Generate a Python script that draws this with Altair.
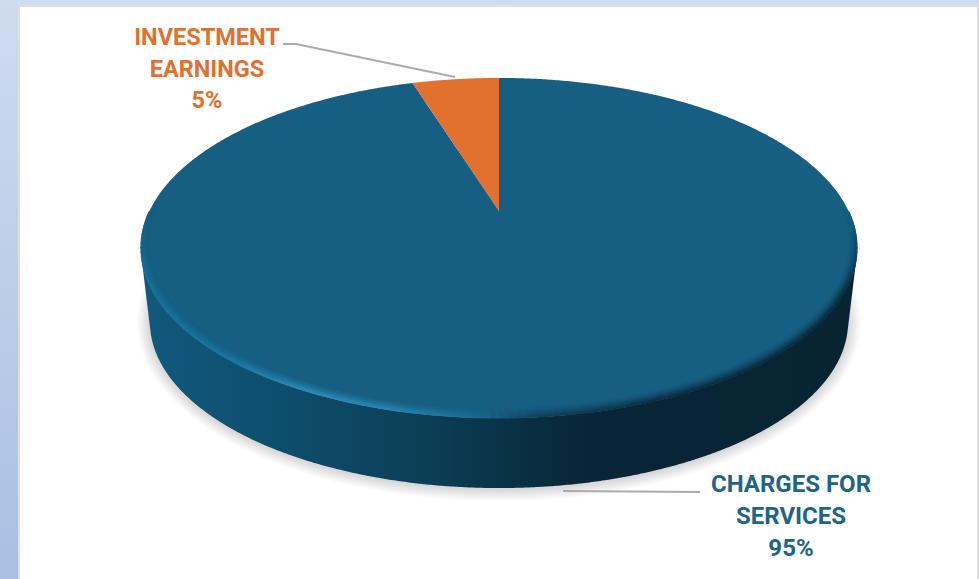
import altair as alt
import numpy as np
import pandas as pd

# Chart values
shares = [95, 5]
names = [["CHARGES FOR", "SERVICES"], ["INVESTMENT", "EARNINGS"]]
slice_colors = ["#165e82", "#e2702f"]
label_colors = ["#1f6386", "#e2702f"]
label_centers = [(791, 485), (207, 38)]
label_sizes = [24, 23.5]
line_step = [32, 31.5]
leader_lines = [[(563, 491), (700, 492)], [(283, 44), (296, 44), (455, 77)]]

# Pie geometry: a tilted disc seen in perspective
CX, APEX_Y = 499.0, 211.0
TILT, SY, SX = 0.2176, 162.0, 349.5
SX_RIM = 338.0
RX = SX / np.sqrt(1 - TILT**2)
TOP, BOTTOM = APEX_Y - SY / (1 + TILT), APEX_Y + SY / (1 - TILT)
EY, RY = (TOP + BOTTOM) / 2, (BOTTOM - TOP) / 2
DEPTH, WALL_RX, WALL_RY = 74.0, 9.0, 4.0
WIDTH, HEIGHT = 979, 579

X = alt.X("x:Q", scale=alt.Scale(domain=[0, WIDTH], nice=False, zero=False), axis=None)
Y = alt.Y("y:Q", scale=alt.Scale(domain=[HEIGHT, 0], nice=False, zero=False), axis=None)


def rim(theta_deg):
    t = np.radians(theta_deg)
    u, v = np.sin(t), np.cos(t)
    d = 1 + TILT * v
    return CX + SX_RIM * u / d, APEX_Y - SY * v / d


def half(x, cy, rx, ry, sign):
    return cy + sign * ry * np.sqrt(np.clip(1 - ((x - CX) / rx) ** 2, 0, 1))


def grid(rx, n=360):
    return CX - rx * np.cos(np.linspace(0, np.pi, n))


def hgrad(stops):
    return alt.Gradient(
        gradient="linear", x1=0, x2=1, y1=0, y2=0,
        stops=[alt.GradientStop(offset=o, color=c) for o, c in stops],
    )


def fixed_rect(x0, x1, y0, y1, fill):
    return alt.Chart(pd.DataFrame({"a": [0]})).mark_rect(fill=fill, stroke=None).encode(
        x=alt.value(x0), x2=alt.value(x1), y=alt.value(y0), y2=alt.value(y1)
    )


def mix(c1, c2, w):
    a = np.array([int(c1[i:i + 2], 16) for i in (1, 3, 5)], float)
    b = np.array([int(c2[i:i + 2], 16) for i in (1, 3, 5)], float)
    r = a + (b - a) * w
    return "#%02x%02x%02x" % tuple(int(round(q)) for q in r)


layers = []

# Slide backdrop and white panel
backdrop = alt.Gradient(
    gradient="linear", x1=0, x2=0, y1=0, y2=1,
    stops=[alt.GradientStop(offset=0, color="#cfdbef"),
           alt.GradientStop(offset=1, color="#a9c0e3")],
)
layers.append(fixed_rect(0, WIDTH, 0, HEIGHT, backdrop))
layers.append(fixed_rect(18, WIDTH, 5, HEIGHT, "#dedede"))
layers.append(fixed_rect(20, WIDTH - 2, 7, HEIGHT, "#ffffff"))

# Soft shadow on the panel under the disc
for d in np.arange(13, 0, -1.0):
    xs = grid(RX - WALL_RX + d)
    cy = EY + DEPTH + 1
    rx, ry = RX - WALL_RX + d, RY - WALL_RY + d * 0.95
    df = pd.DataFrame({"x": xs, "y": half(xs, cy, rx, ry, -1), "y2": half(xs, cy, rx, ry, 1)})
    layers.append(alt.Chart(df).mark_area(color="#000000", opacity=0.013).encode(x=X, y=Y, y2="y2:Q"))

# Side wall of the disc
xs = grid(RX, 500)
ss = np.linspace(0, 1, 60)
low = np.max([
    np.where(np.abs(xs - CX) <= RX - s * WALL_RX,
             half(xs, EY + s * DEPTH, RX - s * WALL_RX, RY - s * WALL_RY, 1), 0)
    for s in ss
], axis=0)
wall = pd.DataFrame({"x": xs, "y": half(xs, EY, RX, RY, 1), "y2": low})
layers.append(alt.Chart(wall).mark_area(
    color=hgrad([(0, "#11597f"), (0.2, "#0e4d6c"), (0.38, "#0c4058"),
                 (0.5, "#0a3348"), (0.62, "#082637"), (1, "#082433")])
).encode(x=X, y=Y, y2="y2:Q"))

# Top face: one area per slice, with angles taken from the shares
sweep = 360 * shares[1] / sum(shares)
edge_x, edge_y = rim(-sweep)
edge_y = half(edge_x, EY, RX, RY, -1)
xs = np.sort(np.concatenate([grid(RX, 500), [edge_x, CX]]))
upper = half(xs, EY, RX, RY, -1)
inside = (xs > edge_x) & (xs <= CX)
frac = (xs - edge_x) / (CX - edge_x)
upper_cut = np.where(inside, edge_y + frac * (APEX_Y - edge_y), upper)
main = pd.DataFrame({"x": xs, "y": upper_cut, "y2": half(xs, EY, RX, RY, 1)})
# the slice edge rises straight up from the apex to the rim
main = pd.concat([main, pd.DataFrame({"x": [CX + 1e-3], "y": [TOP], "y2": [BOTTOM]})]).sort_values("x")
layers.append(alt.Chart(main).mark_area(color=slice_colors[0]).encode(x=X, y=Y, y2="y2:Q"))

wedge_x = np.linspace(edge_x, CX, 60)
frac = (wedge_x - edge_x) / (CX - edge_x)
wedge = pd.DataFrame({
    "x": wedge_x,
    "y": half(wedge_x, EY, RX, RY, -1),
    "y2": edge_y + frac * (APEX_Y - edge_y),
})
layers.append(alt.Chart(wedge).mark_area(color=slice_colors[1]).encode(x=X, y=Y, y2="y2:Q"))

# Rounded bevel along the front of the top face
rim_stops = [(0.0, "#17719b"), (0.12, "#1a779f"), (0.24, "#2e8dbb"), (0.36, "#2a86b3"),
             (0.47, "#1b6c93"), (0.56, "#123f58"), (0.72, "#0b2d40"), (1.0, "#0a2a3a")]


def rim_color(t):
    for (o0, c0), (o1, c1) in zip(rim_stops, rim_stops[1:]):
        if t <= o1:
            return mix(c0, c1, (t - o0) / (o1 - o0))
    return rim_stops[-1][1]


rows = []
angles = np.arange(78, 282.1, 1.5)
depths = np.arange(9.5, 0.4, -1.0)
ax = CX + RX * np.sin(np.radians(angles))
ay = EY - RY * np.cos(np.radians(angles))
for d in depths:
    kx = 1 - 0.75 * d / RX
    ky = 1 - d / (2 * RY)
    px = CX + (ax - CX) * kx
    py = TOP + (ay - TOP) * ky
    for i in range(len(angles) - 1):
        t = (px[i] - (CX - RX)) / (2 * RX)
        # the bevel fades out as it climbs the sides, and towards its inner edge
        side = np.clip((py[i] - (EY - 35)) / 75, 0, 1)
        w = (1 - d / 10) ** 1.3 * side
        rows.append({"x": px[i], "y": py[i], "x2": px[i + 1], "y2": py[i + 1],
                     "c": mix(slice_colors[0], rim_color(t), w)})
bevel = pd.DataFrame(rows)
layers.append(alt.Chart(bevel).mark_rule(strokeWidth=1.8, strokeCap="round").encode(
    x=X, y=Y, x2="x2:Q", y2="y2:Q", color=alt.Color("c:N", scale=None)))

# Leader lines
for pts in leader_lines:
    df = pd.DataFrame(pts, columns=["x", "y"]).assign(k=range(len(pts)))
    layers.append(alt.Chart(df).mark_line(color="#ababab", strokeWidth=2).encode(x=X, y=Y, order="k:Q"))

# Slice labels
for i in range(len(shares)):
    cx0, cy0 = label_centers[i]
    lines = names[i] + [f"{shares[i]}%"]
    df = pd.DataFrame({
        "x": [cx0] * len(lines),
        "y": [cy0 + j * line_step[i] for j in range(len(lines))],
        "t": lines,
    })
    layers.append(alt.Chart(df).mark_text(
        font="Roboto", fontWeight="bold", fontSize=label_sizes[i], color=label_colors[i],
        align="center", baseline="middle",
    ).encode(x=X, y=Y, text="t:N"))

chart = alt.layer(*layers).properties(
    width=WIDTH, height=HEIGHT, padding=0, background="#ffffff",
    autosize=alt.AutoSizeParams(type="none"),
).configure_view(stroke=None)

chart.save("out.html", embed_options={"renderer": "svg", "actions": False})
